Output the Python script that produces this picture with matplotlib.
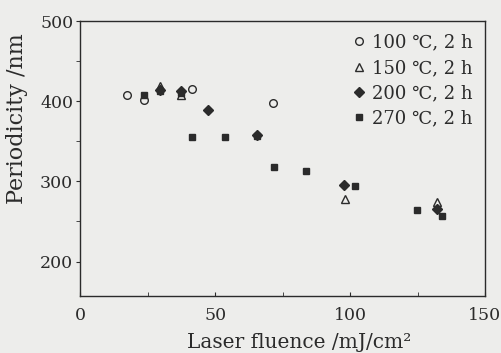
import matplotlib
matplotlib.use("Agg")
import matplotlib.pyplot as plt
from matplotlib.ticker import MultipleLocator

plt.rcParams['font.family'] = ['DejaVu Serif', 'DejaVu Sans']

# data (fluence mJ/cm^2, periodicity nm)
x100 = [17.5, 23.5, 41.4, 71.6]
y100 = [408, 402, 415, 398]

x150 = [29.6, 37.3, 98.1, 132.1]
y150 = [419, 408, 278, 274]

x200 = [29.6, 37.3, 47.5, 65.7, 97.8, 132.1]
y200 = [414, 413, 389, 358, 295, 265]

x270 = [23.5, 29.6, 37.3, 41.6, 53.5, 65.7, 71.7, 83.7, 101.7, 124.9, 133.9]
y270 = [408, 413, 410, 355, 355, 356, 318, 313, 294, 264, 257]

labels = ["100 \u2103, 2 h", "150 \u2103, 2 h", "200 \u2103, 2 h", "270 \u2103, 2 h"]

ink = "#2b2b2b"
bg = "#ededeb"

fig = plt.figure(figsize=(5.01, 3.53), dpi=100, facecolor=bg)
ax = fig.add_axes([0.16, 0.1615, 0.808, 0.779])
ax.set_facecolor(bg)

ax.plot(x270, y270, "s", color=ink, markersize=4.5, linestyle="none", label=labels[3])
ax.plot(x200, y200, "D", color=ink, markersize=5, linestyle="none", label=labels[2])
ax.plot(x150, y150, "^", mfc="none", mec=ink, markersize=5.5, mew=1.0, linestyle="none", label=labels[1])
ax.plot(x100, y100, "o", mfc="none", mec=ink, markersize=5.5, mew=1.0, linestyle="none", label=labels[0])

ax.set_xlim(0, 150)
ax.set_ylim(157, 500)
ax.xaxis.set_major_locator(MultipleLocator(50))
ax.xaxis.set_minor_locator(MultipleLocator(25))
ax.yaxis.set_major_locator(MultipleLocator(100))
ax.yaxis.set_minor_locator(MultipleLocator(50))

ax.tick_params(axis="x", which="both", direction="in", length=3, colors=ink, labelsize=12.5, pad=8)
ax.tick_params(axis="y", which="both", direction="out", length=3, colors=ink, labelsize=12.5, pad=2)
for s in ax.spines.values():
    s.set_color(ink)
    s.set_linewidth(1.0)

ax.set_xlabel("Laser fluence /mJ/cm\u00b2", fontsize=14.5, color=ink, labelpad=0)
ax.xaxis.set_label_coords(0.54, -0.135)
ax.xaxis.label.set_va("top")
ax.set_ylabel("Periodicity /nm", fontsize=16, color=ink)
ax.yaxis.set_label_coords(-0.13, 0.645)

handles, labs = ax.get_legend_handles_labels()
order = [3, 2, 1, 0]
leg = ax.legend([handles[i] for i in order], [labs[i] for i in order],
                loc="upper right", frameon=False, fontsize=13, handlelength=0.6,
                handletextpad=0.4, labelspacing=0.4, borderaxespad=0.3)
for t in leg.get_texts():
    t.set_color(ink)

fig.savefig("out.png", dpi=100, facecolor=bg)
